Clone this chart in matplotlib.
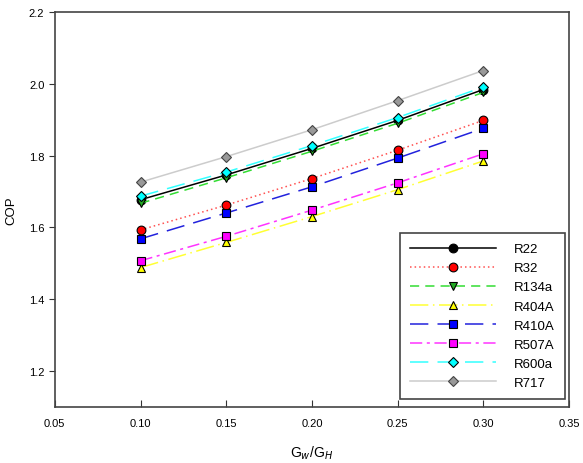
import numpy as np
import matplotlib
matplotlib.use("Agg")
import matplotlib.pyplot as plt

ratio = [0.10, 0.15, 0.20, 0.25, 0.30]

cop_R22   = [1.677, 1.746, 1.820, 1.898, 1.984]
cop_R32   = [1.593, 1.662, 1.736, 1.815, 1.898]
cop_R134a = [1.667, 1.738, 1.812, 1.890, 1.976]
cop_R404A = [1.488, 1.558, 1.630, 1.705, 1.785]
cop_R410A = [1.568, 1.640, 1.713, 1.793, 1.876]
cop_R507A = [1.507, 1.575, 1.648, 1.724, 1.805]
cop_R600a = [1.687, 1.754, 1.828, 1.906, 1.991]
cop_R717  = [1.726, 1.797, 1.872, 1.953, 2.037]

names = ["R22", "R32", "R134a", "R404A", "R410A", "R507A", "R600a", "R717"]
series = [cop_R22, cop_R32, cop_R134a, cop_R404A, cop_R410A, cop_R507A, cop_R600a, cop_R717]

line_cols = ["black", "#ff5050", "#33dd33", "#ffff33", "#2222dd", "#ff33ff", "#33ffff", "#cccccc"]
face_cols = ["black", "red", "#22aa22", "yellow", "blue", "magenta", "cyan", "#999999"]
edge_cols = ["black", "black", "black", "black", "black", "black", "black", "#444444"]
markers = ["o", "o", "v", "^", "s", "s", "D", "D"]
styles = ["-", (0, (1, 2)), (0, (6, 4)), (0, (12, 3, 1, 3)), (0, (12, 6)),
          (0, (8, 3, 2, 3)), (0, (12, 6)), "-"]

plt.rcParams["font.family"] = "Liberation Sans"
fig = plt.figure(figsize=(5.83, 4.64), dpi=100)
ax = fig.add_axes([0.094, 0.121, 0.882, 0.851])

for i in range(len(names)):
    ms = 5.5 if markers[i] == "D" else 6.3
    ax.plot(ratio, series[i], linestyle=styles[i], color=line_cols[i], lw=1.1,
            marker=markers[i], markersize=ms, markerfacecolor=face_cols[i],
            markeredgecolor=edge_cols[i], markeredgewidth=0.8, label=names[i])

ax.set_xlim(0.05, 0.35)
ax.set_ylim(1.1, 2.2)
ax.set_xticks([0.05, 0.10, 0.15, 0.20, 0.25, 0.30, 0.35])
ax.set_yticks([1.2, 1.4, 1.6, 1.8, 2.0, 2.2])
ax.xaxis.set_major_formatter(matplotlib.ticker.FormatStrFormatter("%.2f"))
ax.yaxis.set_major_formatter(matplotlib.ticker.FormatStrFormatter("%.1f"))
ax.tick_params(axis="x", direction="in", length=5, labelsize=8, color="#333333", pad=8)
ax.tick_params(axis="y", direction="out", length=4, labelsize=8, color="#333333")
for s in ax.spines.values():
    s.set_color("#444444")
    s.set_linewidth(1.2)

ax.set_ylabel("COP", fontsize=9.5, labelpad=8)
ax.set_xlabel("G$_{w}$/G$_{H}$", fontsize=10, labelpad=11)

leg = ax.legend(loc="lower right", bbox_to_anchor=(1 - 4 / 514, 8 / 395),
                borderaxespad=0, fontsize=9.5, handlelength=6.5, labelspacing=0.52,
                fancybox=False, edgecolor="#444444", framealpha=1,
                handletextpad=1.4, borderpad=0.75)
leg.get_frame().set_linewidth(1.2)

fig.savefig("out.png", dpi=100)
